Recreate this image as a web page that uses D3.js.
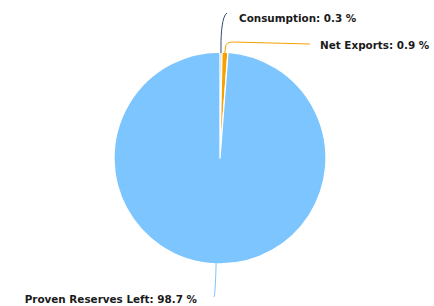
<!DOCTYPE html>
<html>
  <head>
    <meta charset="utf-8" />
    <title>Reserves Pie</title>
    <script src="https://d3js.org/d3.v7.min.js"></script>
    <style>
      body { margin: 0; background: #fff; }
    </style>
  </head>
  <body>
    <svg width="434" height="306"></svg>

    <script>
      // chart data
      const categories = ["Consumption", "Net Exports", "Proven Reserves Left"];
      const shares = [0.3, 0.9, 98.7];
      const colors = ["#2f4f6f", "#f7a000", "#7cc5fe"];

      const svg = d3.select("svg");
      const cx = 220, cy = 158, radius = 106;

      const pie = d3.pie().sort(null).value(d => d)(shares);
      const arc = d3.arc().innerRadius(0).outerRadius(radius);

      const g = svg.append("g").attr("transform", `translate(${cx},${cy})`);

      g.selectAll("path.slice")
        .data(pie)
        .enter()
        .append("path")
        .attr("class", "slice")
        .attr("d", arc)
        .attr("fill", (d, i) => colors[i])
        .attr("stroke", "#fff")
        .attr("stroke-width", 1.3)
        .attr("stroke-linejoin", "round");

      // label anchor positions (relative to pie centre) and text alignment
      const labelPos = [
        { x: 19, y: -140, anchor: "start" },
        { x: 100, y: -113, anchor: "start" },
        { x: -23, y: 141, anchor: "end" }
      ];

      function outerPoint(d, r) {
        const a = (d.startAngle + d.endAngle) / 2;
        return [Math.sin(a) * r, -Math.cos(a) * r];
      }

      g.selectAll("path.connector")
        .data(pie)
        .enter()
        .append("path")
        .attr("class", "connector")
        .attr("d", (d, i) => {
          const p0 = outerPoint(d, radius - 1);
          const lp = labelPos[i];
          const end = i === 2 ? [lp.x + 17, lp.y - 4] : [lp.x - 10, lp.y - 3];
          const p = d3.path();
          p.moveTo(p0[0], p0[1]);
          if (i === 1) {
            p.lineTo(p0[0] + 0.5, lp.y + 2);
            p.quadraticCurveTo(p0[0] + 1, lp.y - 3, p0[0] + 8, lp.y - 3);
            p.lineTo(end[0], end[1] + 2);
          } else if (i === 0) {
            p.lineTo(p0[0], p0[1] - 8);
            p.bezierCurveTo(p0[0], lp.y + 16, p0[0] + 1, lp.y - 2, end[0] - 2, end[1] - 2);
          } else {
            p.lineTo(p0[0], p0[1] + 4);
            p.quadraticCurveTo(p0[0] - 1, lp.y - 2, end[0], end[1] + 2);
          }
          return p.toString();
        })
        .attr("fill", "none")
        .attr("stroke", (d, i) => colors[i])
        .attr("stroke-width", 1);

      g.selectAll("text.label")
        .data(pie)
        .enter()
        .append("text")
        .attr("class", "label")
        .attr("x", (d, i) => labelPos[i].x)
        .attr("y", (d, i) => labelPos[i].y)
        .attr("dy", "0.35em")
        .attr("text-anchor", (d, i) => labelPos[i].anchor)
        .style("font-family", "'DejaVu Sans', sans-serif")
        .style("font-size", "10.4px")
        .style("font-weight", "bold")
        .style("fill", "#1a1a1a")
        .text((d, i) => `${categories[i]}: ${shares[i]} %`);
    </script>
  </body>
</html>
